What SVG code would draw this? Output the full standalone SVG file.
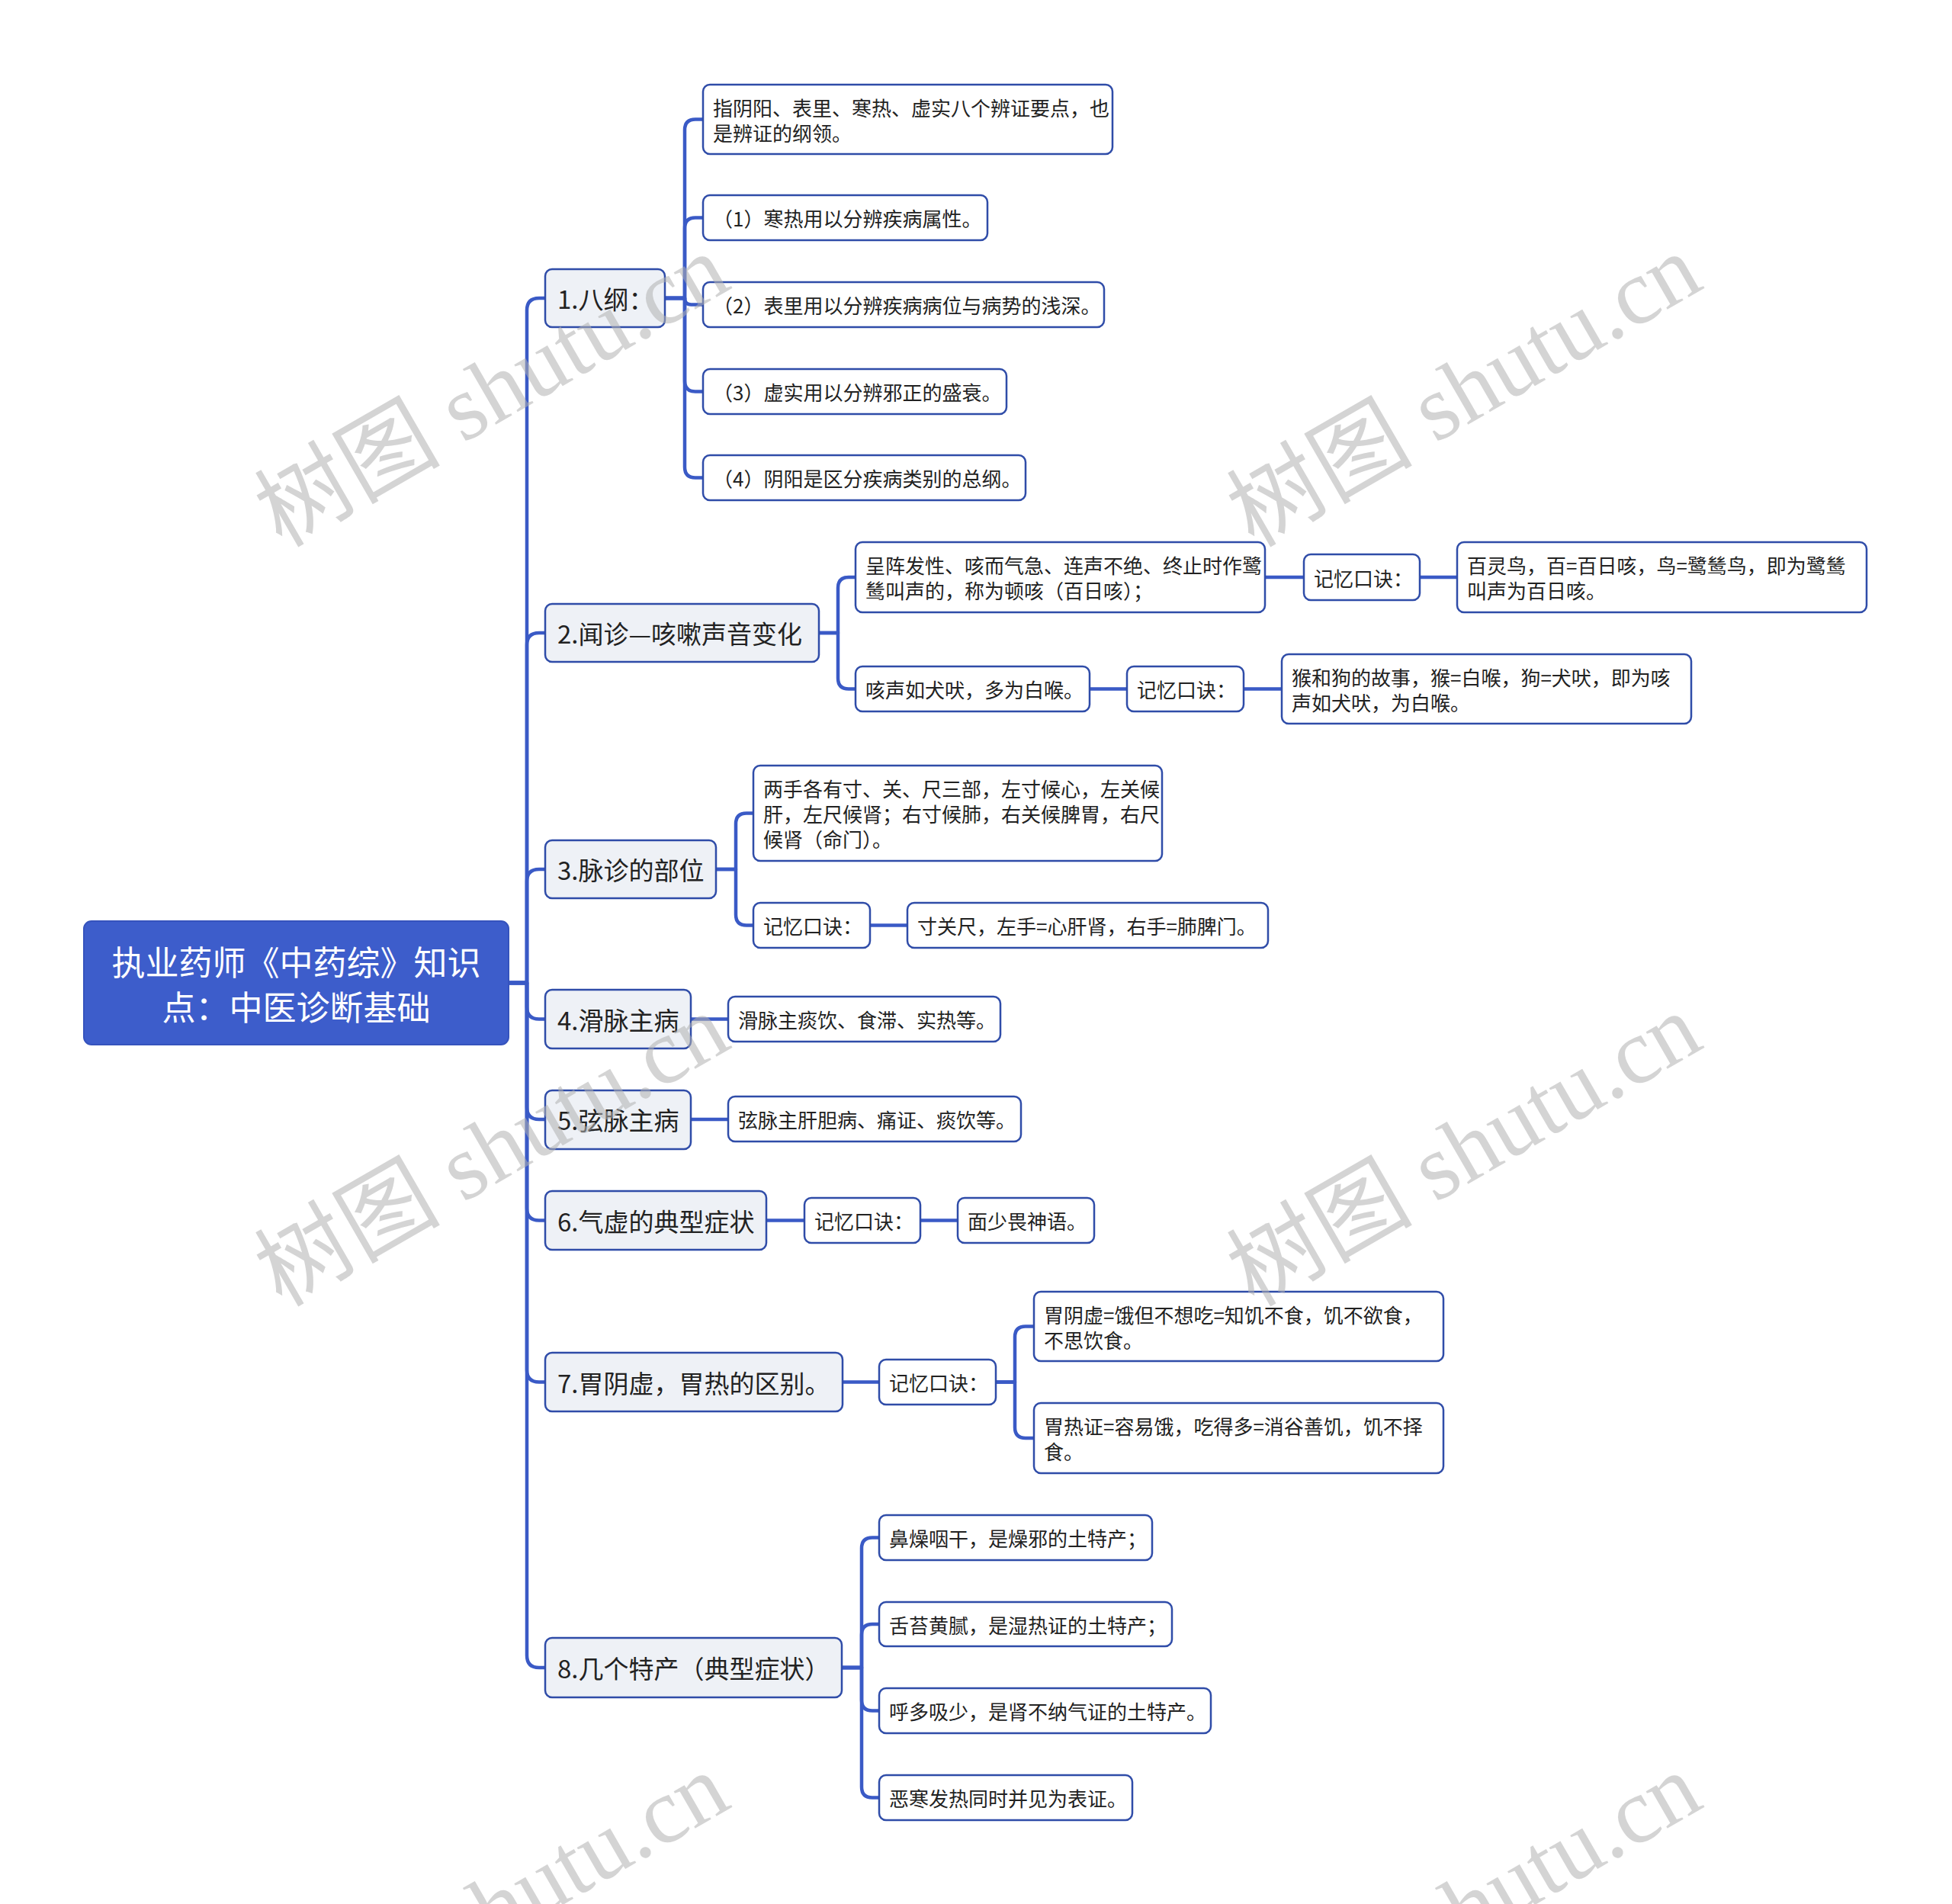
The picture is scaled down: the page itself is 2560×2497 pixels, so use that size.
<svg xmlns="http://www.w3.org/2000/svg" width="2560" height="2497" viewBox="0 0 2560 2497">
<style>
.bg{fill:#ffffff}
.root rect{fill:#3d5dcb;stroke:#3553bd;stroke-width:2}
.l1 rect{fill:#eef1f6;stroke:#2f4ca8;stroke-width:2.5}
.leaf rect{fill:#ffffff;stroke:#2f4ca8;stroke-width:2.5}
text{font-family:"Noto Sans CJK SC","Noto Sans",sans-serif;dominant-baseline:central}
.tr{font-size:44px;fill:#ffffff;text-anchor:middle}
.t1{font-size:33px;fill:#222222}
.t2{font-size:26px;fill:#222222}
.conn path{fill:none;stroke:#3a5ac6;stroke-width:4.5;stroke-linecap:round;stroke-linejoin:round}
.wm{font-family:"Liberation Serif","Noto Sans CJK SC",serif;font-size:122px;fill:#b0b0b0;fill-opacity:0.55;text-anchor:middle;dominant-baseline:central}
</style>
<rect class="bg" x="0" y="0" width="2560" height="2497"/>

<g class="conn" id="connectors">
  <!-- root to level 1 -->
  <path d="M667 1289 H691 V407 Q691 391 707 391 H715"/>
  <path d="M667 1289 H691 V846 Q691 830 707 830 H715"/>
  <path d="M667 1289 H691 V1156 Q691 1140 707 1140 H715"/>
  <path d="M667 1289 H691 V1320.5 Q691 1336.5 707 1336.5 H715"/>
  <path d="M667 1289 H691 V1452 Q691 1468 707 1468 H715"/>
  <path d="M667 1289 H691 V1584.5 Q691 1600.5 707 1600.5 H715"/>
  <path d="M667 1289 H691 V1796.5 Q691 1812.5 707 1812.5 H715"/>
  <path d="M667 1289 H691 V2171 Q691 2187 707 2187 H715"/>
  <!-- node 1 children -->
  <path d="M872 391 H898 V170.5 Q898 156.5 912 156.5 H922"/>
  <path d="M872 391 H898 V299.5 Q898 285.5 912 285.5 H922"/>
  <path d="M872 391 H898 Q898 399.5 906.5 399.5 H922"/>
  <path d="M872 391 H898 V499.5 Q898 513.5 912 513.5 H922"/>
  <path d="M872 391 H898 V612.5 Q898 626.5 912 626.5 H922"/>
  <!-- node 2 children -->
  <path d="M1074 830 H1099 V771 Q1099 757 1113 757 H1122"/>
  <path d="M1074 830 H1099 V889.5 Q1099 903.5 1113 903.5 H1122"/>
  <path d="M1659 757 H1710"/>
  <path d="M1862 757 H1911"/>
  <path d="M1429 903.5 H1478"/>
  <path d="M1631 903.5 H1681"/>
  <!-- node 3 children -->
  <path d="M939 1140 H965 V1080.5 Q965 1066.5 979 1066.5 H988"/>
  <path d="M939 1140 H965 V1199.5 Q965 1213.5 979 1213.5 H988"/>
  <path d="M1141 1213.5 H1190"/>
  <!-- node 4,5,6 -->
  <path d="M906 1336.5 H955"/>
  <path d="M906 1468 H955"/>
  <path d="M1005 1600.5 H1055"/>
  <path d="M1207 1600.5 H1256"/>
  <!-- node 7 -->
  <path d="M1105 1812.5 H1153"/>
  <path d="M1306 1812.5 H1331 V1753.5 Q1331 1739.5 1345 1739.5 H1356"/>
  <path d="M1306 1812.5 H1331 V1872 Q1331 1886 1345 1886 H1356"/>
  <!-- node 8 -->
  <path d="M1104 2187 H1130 V2030.5 Q1130 2016.5 1144 2016.5 H1153"/>
  <path d="M1104 2187 H1130 V2144 Q1130 2130 1144 2130 H1153"/>
  <path d="M1104 2187 H1130 V2229.5 Q1130 2243.5 1144 2243.5 H1153"/>
  <path d="M1104 2187 H1130 V2343.5 Q1130 2357.5 1144 2357.5 H1153"/>
</g>

<g id="root" class="root">
  <rect x="110" y="1208" width="557" height="162" rx="10"/>
  <text class="tr" x="388.5" y="1259.5">执业药师《中药综》知识</text>
  <text class="tr" x="388.5" y="1318.5">点：中医诊断基础</text>
</g>

<g id="n1" class="l1"><rect x="715" y="353" width="157" height="76" rx="9"/><text class="t1" x="731" y="391">1.八纲：</text></g>
<g id="n2" class="l1"><rect x="715" y="792" width="359" height="76" rx="9"/><text class="t1" x="731" y="830">2.闻诊—咳嗽声音变化</text></g>
<g id="n3" class="l1"><rect x="715" y="1102" width="224" height="76" rx="9"/><text class="t1" x="731" y="1140">3.脉诊的部位</text></g>
<g id="n4" class="l1"><rect x="715" y="1298" width="191" height="77" rx="9"/><text class="t1" x="731" y="1336.5">4.滑脉主病</text></g>
<g id="n5" class="l1"><rect x="715" y="1430" width="191" height="77" rx="9"/><text class="t1" x="731" y="1468">5.弦脉主病</text></g>
<g id="n6" class="l1"><rect x="715" y="1562" width="290" height="77" rx="9"/><text class="t1" x="731" y="1600.5">6.气虚的典型症状</text></g>
<g id="n7" class="l1"><rect x="715" y="1774" width="390" height="77" rx="9"/><text class="t1" x="731" y="1812.5">7.胃阴虚，胃热的区别。</text></g>
<g id="n8" class="l1"><rect x="715" y="2148" width="389" height="78" rx="9"/><text class="t1" x="731" y="2187">8.几个特产（典型症状）</text></g>

<g id="c1a" class="leaf"><rect x="922" y="111" width="537" height="91" rx="9"/><text class="t2" x="935" y="140">指阴阳、表里、寒热、虚实八个辨证要点，也</text><text class="t2" x="935" y="173">是辨证的纲领。</text></g>
<g id="c1b" class="leaf"><rect x="922" y="256" width="373" height="59" rx="9"/><text class="t2" x="935" y="285.5">（1）寒热用以分辨疾病属性。</text></g>
<g id="c1c" class="leaf"><rect x="922" y="370" width="526" height="59" rx="9"/><text class="t2" x="935" y="399.5">（2）表里用以分辨疾病病位与病势的浅深。</text></g>
<g id="c1d" class="leaf"><rect x="922" y="484" width="398" height="59" rx="9"/><text class="t2" x="935" y="513.5">（3）虚实用以分辨邪正的盛衰。</text></g>
<g id="c1e" class="leaf"><rect x="922" y="597" width="423" height="59" rx="9"/><text class="t2" x="935" y="626.5">（4）阴阳是区分疾病类别的总纲。</text></g>

<g id="c2a" class="leaf"><rect x="1122" y="711" width="537" height="92" rx="9"/><text class="t2" x="1135" y="740.5">呈阵发性、咳而气急、连声不绝、终止时作鹭</text><text class="t2" x="1135" y="773.5">鸶叫声的，称为顿咳（百日咳）；</text></g>
<g id="c2a-k" class="leaf"><rect x="1710" y="727" width="152" height="60" rx="9"/><text class="t2" x="1723" y="757">记忆口诀：</text></g>
<g id="c2a-m" class="leaf"><rect x="1911" y="711" width="537" height="92" rx="9"/><text class="t2" x="1924" y="740.5">百灵鸟，百=百日咳，鸟=鹭鸶鸟，即为鹭鸶</text><text class="t2" x="1924" y="773.5">叫声为百日咳。</text></g>
<g id="c2b" class="leaf"><rect x="1122" y="874" width="307" height="59" rx="9"/><text class="t2" x="1135" y="903.5">咳声如犬吠，多为白喉。</text></g>
<g id="c2b-k" class="leaf"><rect x="1478" y="874" width="153" height="59" rx="9"/><text class="t2" x="1491" y="903.5">记忆口诀：</text></g>
<g id="c2b-m" class="leaf"><rect x="1681" y="858" width="537" height="91" rx="9"/><text class="t2" x="1694" y="887">猴和狗的故事，猴=白喉，狗=犬吠，即为咳</text><text class="t2" x="1694" y="920">声如犬吠，为白喉。</text></g>

<g id="c3a" class="leaf"><rect x="988" y="1004" width="536" height="125" rx="9"/><text class="t2" x="1001" y="1033.5">两手各有寸、关、尺三部，左寸候心，左关候</text><text class="t2" x="1001" y="1066.5">肝，左尺候肾；右寸候肺，右关候脾胃，右尺</text><text class="t2" x="1001" y="1099.5">候肾（命门）。</text></g>
<g id="c3b" class="leaf"><rect x="988" y="1184" width="153" height="59" rx="9"/><text class="t2" x="1001" y="1213.5">记忆口诀：</text></g>
<g id="c3b-m" class="leaf"><rect x="1190" y="1184" width="473" height="59" rx="9"/><text class="t2" x="1203" y="1213.5">寸关尺，左手=心肝肾，右手=肺脾门。</text></g>

<g id="c4" class="leaf"><rect x="955" y="1307" width="357" height="59" rx="9"/><text class="t2" x="968" y="1336.5">滑脉主痰饮、食滞、实热等。</text></g>
<g id="c5" class="leaf"><rect x="955" y="1438" width="384" height="59" rx="9"/><text class="t2" x="968" y="1467.5">弦脉主肝胆病、痛证、痰饮等。</text></g>
<g id="c6-k" class="leaf"><rect x="1055" y="1571" width="152" height="59" rx="9"/><text class="t2" x="1068" y="1600.5">记忆口诀：</text></g>
<g id="c6-m" class="leaf"><rect x="1256" y="1571" width="179" height="59" rx="9"/><text class="t2" x="1269" y="1600.5">面少畏神语。</text></g>

<g id="c7-k" class="leaf"><rect x="1153" y="1783" width="153" height="59" rx="9"/><text class="t2" x="1166" y="1812.5">记忆口诀：</text></g>
<g id="c7a" class="leaf"><rect x="1356" y="1694" width="537" height="91" rx="9"/><text class="t2" x="1369" y="1723">胃阴虚=饿但不想吃=知饥不食，饥不欲食，</text><text class="t2" x="1369" y="1756">不思饮食。</text></g>
<g id="c7b" class="leaf"><rect x="1356" y="1840" width="537" height="92" rx="9"/><text class="t2" x="1369" y="1869.5">胃热证=容易饿，吃得多=消谷善饥，饥不择</text><text class="t2" x="1369" y="1902.5">食。</text></g>

<g id="c8a" class="leaf"><rect x="1153" y="1987" width="358" height="59" rx="9"/><text class="t2" x="1166" y="2016.5">鼻燥咽干，是燥邪的土特产；</text></g>
<g id="c8b" class="leaf"><rect x="1153" y="2101" width="384" height="58" rx="9"/><text class="t2" x="1166" y="2130">舌苔黄腻，是湿热证的土特产；</text></g>
<g id="c8c" class="leaf"><rect x="1153" y="2214" width="435" height="59" rx="9"/><text class="t2" x="1166" y="2243.5">呼多吸少，是肾不纳气证的土特产。</text></g>
<g id="c8d" class="leaf"><rect x="1153" y="2328" width="332" height="59" rx="9"/><text class="t2" x="1166" y="2357.5">恶寒发热同时并见为表证。</text></g>

<g id="watermarks">
  <text class="wm" x="645" y="512" transform="rotate(-30 645 512)">树图 shutu.cn</text>
  <text class="wm" x="1920" y="512" transform="rotate(-30 1920 512)">树图 shutu.cn</text>
  <text class="wm" x="645" y="1508" transform="rotate(-30 645 1508)">树图 shutu.cn</text>
  <text class="wm" x="1920" y="1508" transform="rotate(-30 1920 1508)">树图 shutu.cn</text>
  <text class="wm" x="645" y="2504" transform="rotate(-30 645 2504)">树图 shutu.cn</text>
  <text class="wm" x="1920" y="2504" transform="rotate(-30 1920 2504)">树图 shutu.cn</text>
</g>
</svg>
